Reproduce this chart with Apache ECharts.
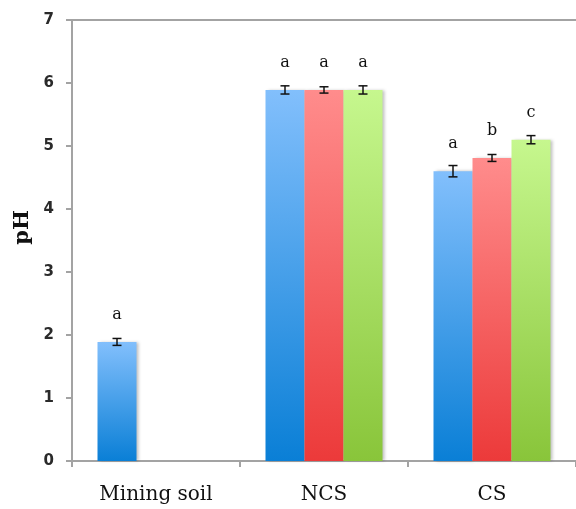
<!DOCTYPE html>
<html>
<head>
<meta charset="utf-8">
<script src="https://cdn.jsdelivr.net/npm/echarts@6/dist/echarts.min.js"></script>
<style>html,body{margin:0;padding:0;background:#fff;}#c{width:576px;height:509px;}</style>
</head>
<body>
<div id="c"></div>
<script>
var categories = ['Mining soil', 'NCS', 'CS'];
var yTicks = [0, 1, 2, 3, 4, 5, 6, 7];
var s1 = [1.89, 5.89, 4.6];
var s2 = [null, 5.89, 4.81];
var s3 = [null, 5.89, 5.1];
var err1 = [0.055, 0.065, 0.09];
var err2 = [null, 0.05, 0.055];
var err3 = [null, 0.065, 0.065];
var letters1 = ['a', 'a', 'a'];
var letters2 = [null, 'a', 'b'];
var letters3 = [null, 'a', 'c'];

var BW = 39;
var chart = echarts.init(document.getElementById('c'));

function grad(top, bottom) {
  return new echarts.graphic.LinearGradient(0, 0, 0, 1, [
    {offset: 0, color: top}, {offset: 1, color: bottom}
  ]);
}
var colors = [
  grad('#82bffc', '#0a7fd6'),
  grad('#ff8c8c', '#ec3a3a'),
  grad('#c6f78e', '#89c53a')
];

function barSeries(vals, letters, color) {
  return {
    type: 'bar',
    data: vals,
    barWidth: BW,
    barGap: '0%',
    itemStyle: {color: color, shadowColor: 'rgba(0,0,0,0.25)', shadowBlur: 3, shadowOffsetX: 2},
    label: {
      show: true,
      position: 'top',
      distance: 19,
      formatter: function (p) { return letters[p.dataIndex] || ''; },
      fontFamily: 'DejaVu Serif',
      fontSize: 16,
      color: '#111'
    }
  };
}

function errSeries(vals, errs, k) {
  var data = [];
  for (var i = 0; i < vals.length; i++) {
    if (vals[i] != null) data.push([i, vals[i], errs[i]]);
  }
  return {
    type: 'custom',
    z: 10,
    data: data,
    renderItem: function (params, api) {
      var i = api.value(0), v = api.value(1), e = api.value(2);
      var hi = api.coord([i, v + e]);
      var lo = api.coord([i, v - e]);
      var x = hi[0] + (k - 1) * BW;
      var hw = 4.5;
      var st = {stroke: '#111', lineWidth: 1.5};
      return {
        type: 'group',
        children: [
          {type: 'line', shape: {x1: x, y1: hi[1], x2: x, y2: lo[1]}, style: st},
          {type: 'line', shape: {x1: x - hw, y1: hi[1], x2: x + hw, y2: hi[1]}, style: st},
          {type: 'line', shape: {x1: x - hw, y1: lo[1], x2: x + hw, y2: lo[1]}, style: st}
        ]
      };
    }
  };
}

var axisLineStyle = {color: '#a3a3a3', width: 2};

chart.setOption({
  animation: false,
  grid: {left: 72, right: 0, top: 20, bottom: 48},
  xAxis: [{
    type: 'category',
    data: categories,
    axisLine: {lineStyle: axisLineStyle},
    axisTick: {show: true, length: 6, lineStyle: axisLineStyle},
    axisLabel: {fontFamily: 'DejaVu Serif', fontSize: 20, color: '#111', margin: 24}
  }, {
    type: 'category',
    data: categories,
    position: 'top',
    axisLine: {show: true, lineStyle: axisLineStyle},
    axisTick: {show: false},
    axisLabel: {show: false}
  }],
  yAxis: {
    type: 'value',
    min: yTicks[0],
    max: yTicks[yTicks.length - 1],
    interval: 1,
    name: 'pH',
    nameLocation: 'middle',
    nameGap: 32,
    nameTextStyle: {fontFamily: 'DejaVu Serif', fontWeight: 'bold', fontSize: 21, color: '#111', padding: [0, 0, 0, 26]},
    axisLine: {show: true, lineStyle: axisLineStyle},
    axisTick: {show: true, length: 6, lineStyle: axisLineStyle},
    splitLine: {show: false},
    axisLabel: {fontFamily: 'DejaVu Sans', fontWeight: 'bold', fontSize: 15, color: '#2a2a2a', margin: 18}
  },
  series: [
    barSeries(s1, letters1, colors[0]),
    barSeries(s2, letters2, colors[1]),
    barSeries(s3, letters3, colors[2]),
    errSeries(s1, err1, 0),
    errSeries(s2, err2, 1),
    errSeries(s3, err3, 2)
  ]
});
</script>
</body>
</html>
